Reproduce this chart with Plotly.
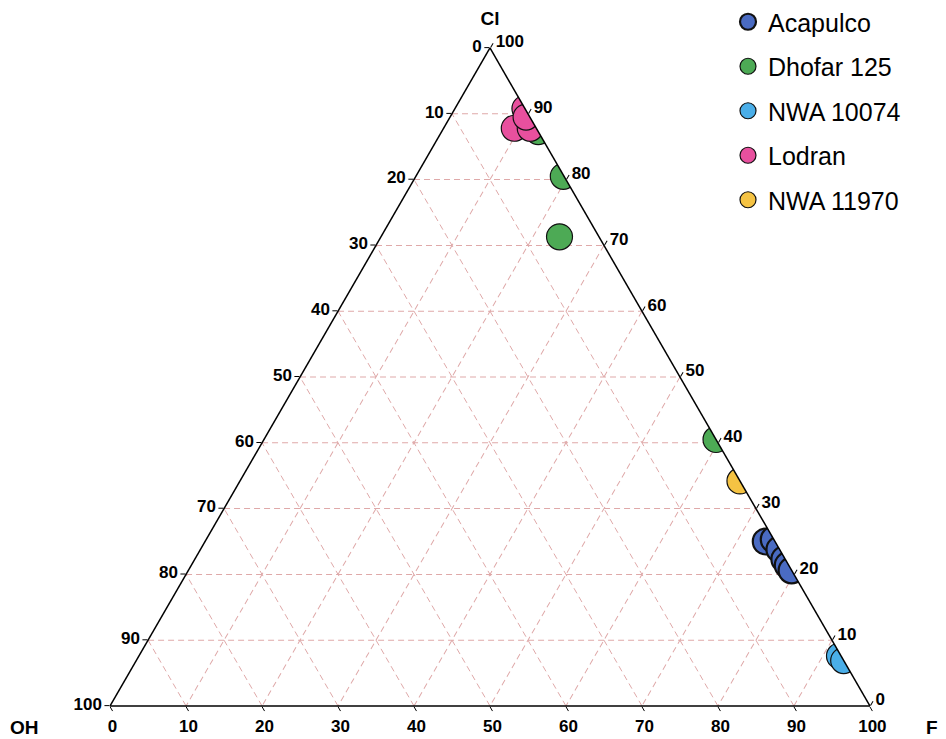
import plotly.graph_objects as go

# ---- data (Cl, OH, F in %) ----
acapulco_cl = [25.0, 25.3, 23.8, 22.3, 21.4, 20.6]
acapulco_oh = [1.2, 0.0, 0.0, 0.1, 0.1, 0.0]
acapulco_f = [73.8, 74.7, 76.2, 77.6, 78.5, 79.4]

dhofar_cl = [87.3, 80.5, 71.3, 40.5]
dhofar_oh = [0.0, 0.1, 5.2, 0.0]
dhofar_f = [12.7, 19.4, 23.5, 59.5]

nwa10074_cl = [7.6, 6.9]
nwa10074_oh = [0.2, 0.0]
nwa10074_f = [92.2, 93.1]

lodran_cl = [87.8, 87.8, 90.8, 89.5]
lodran_oh = [2.9, 0.8, 0.0, 0.5]
lodran_f = [9.3, 11.4, 9.2, 10.0]

nwa11970_cl = [34.2]
nwa11970_oh = [0.0]
nwa11970_f = [65.8]

tick_values = [0, 10, 20, 30, 40, 50, 60, 70, 80, 90, 100]
tick_labels = ["100", "90", "80", "70", "60", "50", "40", "30", "20", "10", "0"]

series = [
    ("Acapulco", acapulco_cl, acapulco_oh, acapulco_f, "#4A6BC2", 2.2),
    ("Dhofar 125", dhofar_cl, dhofar_oh, dhofar_f, "#4DAA55", 1.2),
    ("NWA 10074", nwa10074_cl, nwa10074_oh, nwa10074_f, "#4AAEE8", 1.2),
    ("Lodran", lodran_cl, lodran_oh, lodran_f, "#E8509E", 1.2),
    ("NWA 11970", nwa11970_cl, nwa11970_oh, nwa11970_f, "#F5C343", 1.2),
]

fig = go.Figure()
for name, cl, oh, f, color, lw in series:
    fig.add_trace(go.Scatterternary(
        a=cl, b=oh, c=f, mode="markers", name=name, legendgroup=name,
        marker=dict(size=26, color=color, line=dict(color="#111111", width=lw)),
    ))

tickfont = dict(family="Liberation Sans", size=17, color="black", weight="bold")
titlefont = dict(family="Liberation Sans", size=19, color="black", weight="bold")
axis_common = dict(
    tickmode="array", tickvals=tick_values, ticktext=tick_labels,
    tickfont=tickfont, ticks="outside", ticklen=5, tickcolor="black",
    showline=True, linecolor="black", linewidth=1.5,
    showgrid=True, gridcolor="#DFA9A9", gridwidth=1, griddash="6px,4px",
)

fig.update_layout(
    width=946, height=739,
    margin=dict(l=0, r=0, t=0, b=0, autoexpand=False),
    paper_bgcolor="white",
    ternary=dict(
        sum=100,
        bgcolor="white",
        domain=dict(x=[0.0595, 0.9595], y=[0.0555, 0.9459]),
        aaxis=dict(title=dict(text="Cl", font=titlefont), **axis_common),
        baxis=dict(title=dict(text=""), **axis_common),
        caxis=dict(title=dict(text=""), **axis_common),
    ),
    legend=dict(
        x=720 / 946, y=1 + 9 / 739, xanchor="left", yanchor="top",
        font=dict(family="Liberation Sans", size=25, color="black"),
        tracegroupgap=9, bgcolor="rgba(0,0,0,0)",
    ),
    showlegend=True,
    annotations=[
        dict(text="OH", x=0.017, y=0.026, xref="paper", yref="paper",
             showarrow=False, font=titlefont, xanchor="center", yanchor="middle"),
        dict(text="F", x=0.977, y=0.026, xref="paper", yref="paper",
             showarrow=False, font=titlefont, xanchor="center", yanchor="middle"),
    ],
)

fig.write_html("out.html")
